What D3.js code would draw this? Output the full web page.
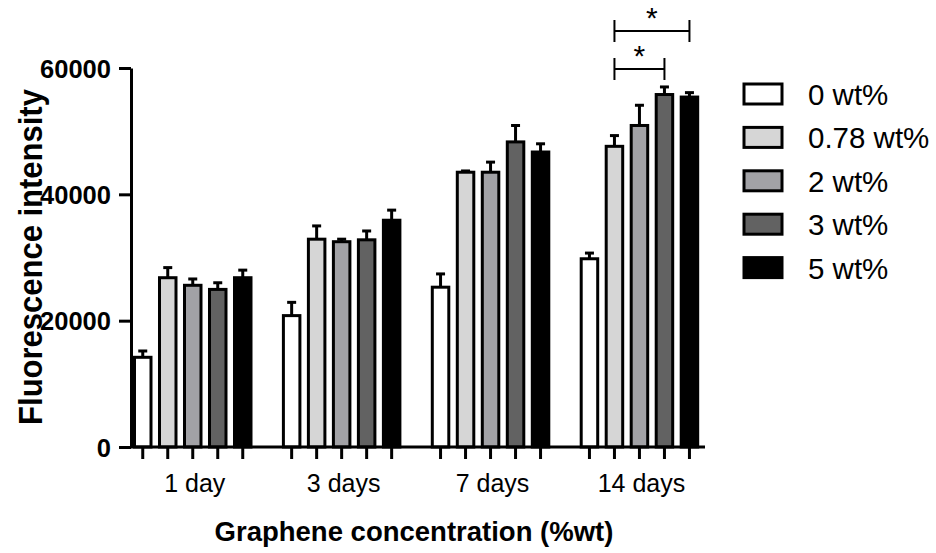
<!DOCTYPE html>
<html>
<head>
<meta charset="utf-8">
<script src="https://cdn.jsdelivr.net/npm/d3@7"></script>
<style>
  body { margin: 0; background: #fff; }
  text { font-family: "Liberation Sans", Arial, sans-serif; fill: #000; }
</style>
</head>
<body>
<div id="canvas"></div>
<script>
// data
const days = ["1 day", "3 days", "7 days", "14 days"];
const series = ["0 wt%", "0.78 wt%", "2 wt%", "3 wt%", "5 wt%"];
const colors = ["#ffffff", "#d6d6d6", "#a2a2a6", "#626262", "#000000"];
// mean values, one array per series (1, 3, 7, 14 days)
const wt0 = [14200, 20800, 25300, 29800];
const wt078 = [26800, 32900, 43500, 47600];
const wt2 = [25600, 32500, 43500, 50900];
const wt3 = [24950, 32800, 48300, 55800];
const wt5 = [26800, 35900, 46700, 55400];
// top of error bars
const err0 = [15200, 22900, 27400, 30700];
const err078 = [28400, 35000, 43700, 49300];
const err2 = [26600, 32900, 45100, 54100];
const err3 = [26000, 34200, 50900, 57000];
const err5 = [28000, 37500, 48000, 56100];
const yTicks = [0, 20000, 40000, 60000];
// significance brackets in the 14 days group
const sig = [
  { day: "14 days", from: "0.78 wt%", to: "3 wt%", level: 69, label: "*" },
  { day: "14 days", from: "0.78 wt%", to: "5 wt%", level: 31, label: "*" }
];

const means = [wt0, wt078, wt2, wt3, wt5];
const errs = [err0, err078, err2, err3, err5];

const width = 936;
const height = 553;

const svg = d3.select("#canvas").append("svg")
  .attr("width", width)
  .attr("height", height);

const y = d3.scaleLinear().domain([0, 60000]).range([447, 68]);

const x0 = d3.scaleBand()
  .domain(days)
  .range([134.5, 697.7])
  .paddingInner(0.2176)
  .paddingOuter(0);

const x1 = d3.scaleBand()
  .domain(series)
  .range([0, x0.bandwidth()])
  .paddingInner(0.34)
  .paddingOuter(0);

const color = d3.scaleOrdinal().domain(series).range(colors);

const data = [];
days.forEach((d, i) => {
  series.forEach((s, j) => {
    data.push({ day: d, series: s, value: means[j][i], err: errs[j][i] });
  });
});

// bars
const groups = svg.selectAll(".group")
  .data(days)
  .enter().append("g")
  .attr("class", "group")
  .attr("transform", d => `translate(${x0(d)},0)`);

groups.selectAll(".bar")
  .data(d => data.filter(r => r.day === d))
  .enter().append("rect")
  .attr("class", "bar")
  .attr("x", d => x1(d.series))
  .attr("y", d => y(d.value))
  .attr("width", x1.bandwidth())
  .attr("height", d => y(0) - y(d.value))
  .attr("fill", d => color(d.series))
  .attr("stroke", "#000")
  .attr("stroke-width", 3);

// error bars (upper only)
const capW = 9;
groups.selectAll(".errline")
  .data(d => data.filter(r => r.day === d))
  .enter().append("line")
  .attr("x1", d => x1(d.series) + x1.bandwidth() / 2)
  .attr("x2", d => x1(d.series) + x1.bandwidth() / 2)
  .attr("y1", d => y(d.value))
  .attr("y2", d => y(d.err))
  .attr("stroke", "#000")
  .attr("stroke-width", 3);

groups.selectAll(".errcap")
  .data(d => data.filter(r => r.day === d))
  .enter().append("line")
  .attr("x1", d => x1(d.series) + x1.bandwidth() / 2 - capW / 2)
  .attr("x2", d => x1(d.series) + x1.bandwidth() / 2 + capW / 2)
  .attr("y1", d => y(d.err))
  .attr("y2", d => y(d.err))
  .attr("stroke", "#000")
  .attr("stroke-width", 3);

// x ticks under each bar
groups.append("g")
  .attr("class", "axis")
  .attr("transform", `translate(0,${y(0)})`)
  .call(d3.axisBottom(x1).tickSize(12).tickFormat(""))
  .call(g => g.select(".domain").remove())
  .call(g => g.selectAll(".tick line").attr("stroke-width", 3));

// category labels
groups.append("text")
  .attr("x", x0.bandwidth() / 2 + 2)
  .attr("y", 492)
  .attr("text-anchor", "middle")
  .style("font-size", "25px")
  .text(d => d);

// x axis line
svg.append("line")
  .attr("x1", 131)
  .attr("x2", 705)
  .attr("y1", y(0))
  .attr("y2", y(0))
  .attr("stroke", "#000")
  .attr("stroke-width", 3);

// y axis
svg.append("g")
  .attr("class", "axis axis--y")
  .attr("transform", "translate(131,0)")
  .call(d3.axisLeft(y).tickValues(yTicks).tickSize(12).tickSizeOuter(0).tickPadding(8).tickFormat(d3.format("d")))
  .call(g => g.select(".domain").attr("stroke-width", 3))
  .call(g => g.selectAll(".tick line").attr("stroke-width", 3))
  .call(g => g.selectAll(".tick text")
    .style("font-family", "'Liberation Sans', Arial, sans-serif")
    .style("font-size", "25.5px")
    .style("font-weight", "bold")
    .attr("dy", "0.36em"));

// axis titles
svg.append("text")
  .attr("transform", "translate(42,257) rotate(-90) scale(1,1.08)")
  .attr("text-anchor", "middle")
  .style("font-size", "31px")
  .style("font-weight", "bold")
  .text("Fluorescence intensity");

svg.append("text")
  .attr("x", 414)
  .attr("y", 541)
  .attr("text-anchor", "middle")
  .style("font-size", "27.5px")
  .style("font-weight", "bold")
  .text("Graphene concentration (%wt)");

// significance brackets
const cx = (day, s) => x0(day) + x1(s) + x1.bandwidth() / 2;
const sg = svg.selectAll(".sig")
  .data(sig)
  .enter().append("g")
  .attr("class", "sig");

sg.append("line")
  .attr("x1", d => cx(d.day, d.from))
  .attr("x2", d => cx(d.day, d.to))
  .attr("y1", d => d.level)
  .attr("y2", d => d.level)
  .attr("stroke", "#000")
  .attr("stroke-width", 2);

sg.append("line")
  .attr("x1", d => cx(d.day, d.from))
  .attr("x2", d => cx(d.day, d.from))
  .attr("y1", d => d.level - 11)
  .attr("y2", d => d.level + 11)
  .attr("stroke", "#000")
  .attr("stroke-width", 2);

sg.append("line")
  .attr("x1", d => cx(d.day, d.to))
  .attr("x2", d => cx(d.day, d.to))
  .attr("y1", d => d.level - 11)
  .attr("y2", d => d.level + 11)
  .attr("stroke", "#000")
  .attr("stroke-width", 2);

sg.append("text")
  .attr("x", d => (cx(d.day, d.from) + cx(d.day, d.to)) / 2)
  .attr("y", d => d.level - 3)
  .attr("text-anchor", "middle")
  .style("font-size", "30px")
  .text(d => d.label);

// legend
const legend = svg.selectAll(".legend")
  .data(series)
  .enter().append("g")
  .attr("class", "legend")
  .attr("transform", (d, i) => `translate(744,${94 + i * 43.4})`);

legend.append("rect")
  .attr("x", 0)
  .attr("y", -10)
  .attr("width", 38)
  .attr("height", 20)
  .attr("fill", d => color(d))
  .attr("stroke", "#000")
  .attr("stroke-width", 3);

legend.append("text")
  .attr("x", 64)
  .attr("y", 11)
  .style("font-size", "29.5px")
  .text(d => d);
</script>
</body>
</html>
